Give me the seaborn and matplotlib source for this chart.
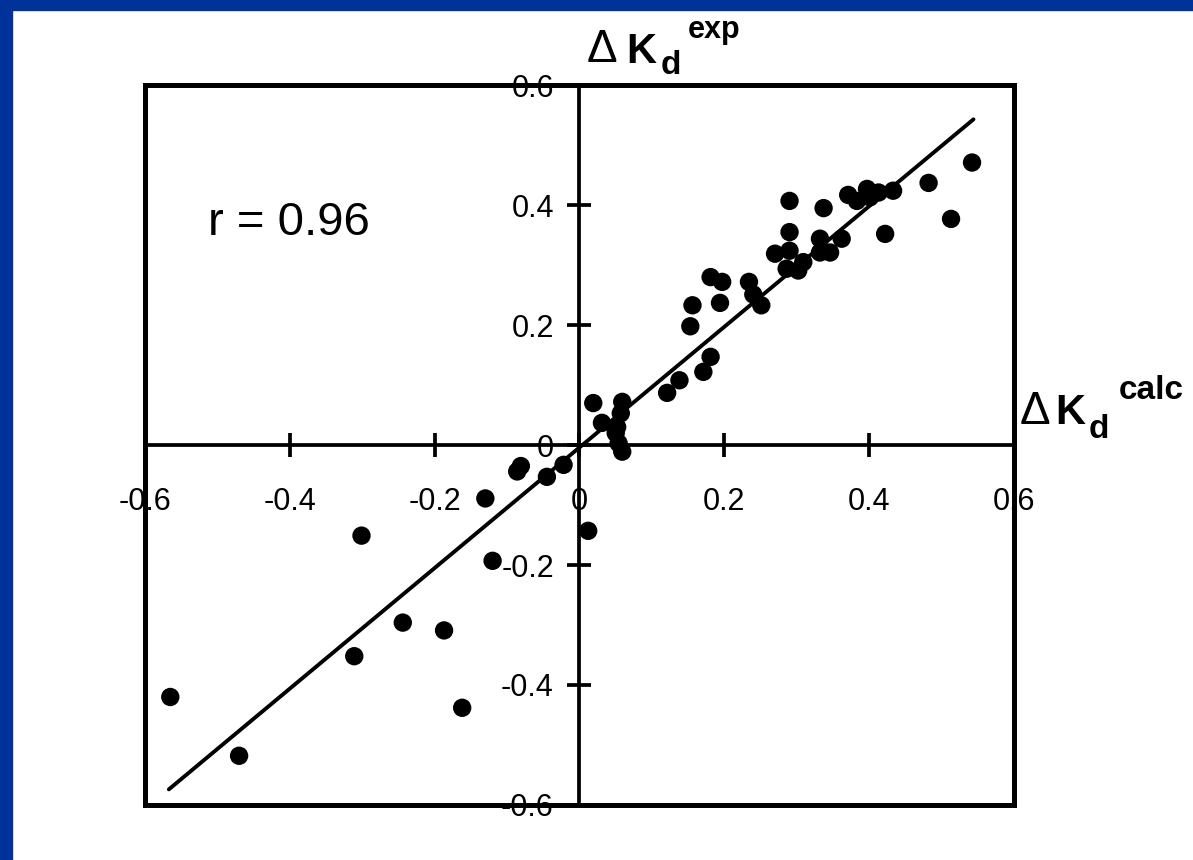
import matplotlib
matplotlib.use("Agg")
import matplotlib.pyplot as plt
from matplotlib.patches import Rectangle
import seaborn as sns
import pandas as pd

# ---- data ----
calc = [0.542, 0.482, 0.513, 0.422, 0.433, 0.413, 0.397, 0.401, 0.383, 0.371,
        0.337, 0.290, 0.290, 0.362, 0.332, 0.346, 0.332, 0.290, 0.270, 0.309,
        0.302, 0.286,
        0.234, 0.240, 0.251, 0.181, 0.197, 0.194, 0.156, 0.153, 0.181, 0.171,
        0.138, 0.121,
        0.019, 0.059, 0.057, 0.031, 0.052, 0.050, 0.054, 0.059, -0.022, -0.045,
        -0.565, -0.470, -0.311, -0.301, -0.244, -0.187, -0.162, -0.120, -0.130,
        -0.086, -0.081, 0.012]
exp = [0.471, 0.437, 0.377, 0.352, 0.424, 0.421, 0.427, 0.413, 0.407, 0.417,
       0.395, 0.407, 0.355, 0.344, 0.344, 0.321, 0.321, 0.324, 0.319, 0.305,
       0.291, 0.294,
       0.272, 0.251, 0.233, 0.280, 0.272, 0.237, 0.233, 0.198, 0.147, 0.122,
       0.108, 0.087,
       0.070, 0.072, 0.053, 0.037, 0.030, 0.020, 0.003, -0.011, -0.033, -0.053,
       -0.420, -0.518, -0.352, -0.151, -0.296, -0.309, -0.438, -0.193, -0.089,
       -0.044, -0.035, -0.143]
fit_x = [-0.567, 0.544]
fit_y = [-0.574, 0.543]
ticks = [-0.6, -0.4, -0.2, 0, 0.2, 0.4, 0.6]
tick_labels = ["-0.6", "-0.4", "-0.2", "0", "0.2", "0.4", "0.6"]
r_text = "r = 0.96"
ylabel_parts = ["\u0394", "K", "d", "exp"]
xlabel_parts = ["\u0394", "K", "d", "calc"]

df = pd.DataFrame({"calc": calc, "exp": exp})

sns.set_style("white")
plt.rcParams["font.family"] = ["Liberation Sans", "DejaVu Sans"]

W, H = 1193, 860
fig = plt.figure(figsize=(W / 100, H / 100), dpi=100)
fig.patch.set_facecolor("white")
blue = "#003399"
fig.patches.append(Rectangle((0, 0), 12 / W, 1, transform=fig.transFigure,
                             color=blue, zorder=0))
fig.patches.append(Rectangle((0, 1 - 10 / H), 1, 10 / H, transform=fig.transFigure,
                             color=blue, zorder=0))

ax = fig.add_axes([0.1215, 0.064, 0.7285, 0.837])
ax.set_facecolor("white")

sns.lineplot(x=fit_x, y=fit_y, ax=ax, color="black", linewidth=2.8,
             estimator=None, sort=False, zorder=3)
sns.scatterplot(data=df, x="calc", y="exp", ax=ax, color="black", s=175,
                edgecolor="none", zorder=4)

ax.set_xlim(-0.6, 0.6)
ax.set_ylim(-0.6, 0.6)

# central axes
ax.spines["left"].set_position(("data", 0))
ax.spines["bottom"].set_position(("data", 0))
ax.spines["top"].set_visible(False)
ax.spines["right"].set_visible(False)
for s in ("left", "bottom"):
    ax.spines[s].set_linewidth(2.7)
    ax.spines[s].set_color("black")
    ax.spines[s].set_zorder(2)

# frame
ax.add_patch(Rectangle((0, 0), 1, 1, transform=ax.transAxes, fill=False,
                       edgecolor="black", linewidth=3.6, clip_on=False, zorder=5))

ax.set_xticks(ticks)
ax.set_xticklabels(tick_labels)
ax.set_yticks(ticks)
ax.set_yticklabels(tick_labels)
ax.tick_params(axis="both", direction="inout", length=17, width=2.7,
               colors="black", labelsize=22, bottom=True, left=True)
ax.tick_params(axis="x", pad=22)
ax.tick_params(axis="y", pad=10)

ax.set_xlabel("")
ax.set_ylabel("")

ax.text(-0.513, 0.37, r_text, fontsize=34, va="center", ha="left", color="black")


def piece(txt, x, y, size, weight):
    fig.text(x / W, 1 - y / H, txt, fontsize=size, fontweight=weight,
             ha="left", va="baseline", color="black")


# y-axis title pieces (left edge, baseline in pixels from top-left)
piece(ylabel_parts[0], 587, 62, 33, "normal")
piece(ylabel_parts[1], 626, 63, 30, "bold")
piece(ylabel_parts[2], 661, 74, 24, "bold")
piece(ylabel_parts[3], 688, 38, 22, "bold")

# x-axis title pieces
piece(xlabel_parts[0], 1020, 424, 33, "normal")
piece(xlabel_parts[1], 1055, 424, 30, "bold")
piece(xlabel_parts[2], 1089, 438, 24, "bold")
piece(xlabel_parts[3], 1119, 399, 24, "bold")

fig.savefig("out.png", dpi=100)
